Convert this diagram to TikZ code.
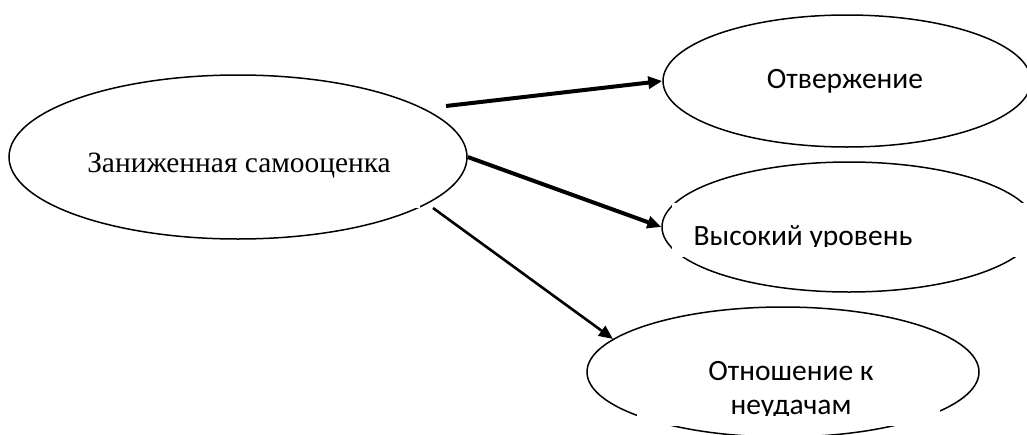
\documentclass[tikz,border=0pt]{standalone}
\usepackage{fontspec}
\setmainfont{Liberation Serif}
\newfontfamily\calibri{Carlito}
\usetikzlibrary{shapes.geometric,arrows.meta,positioning,calc}

\begin{document}
\begin{tikzpicture}[
            x=1pt,y=-1pt,
            >={Triangle[length=14pt,width=12pt]},
            oval/.style={draw,ellipse,line width=1.5pt,inner sep=0pt},
            vector/.style={->,line width=4pt},
            thinvector/.style={->,line width=2.6pt},
            textbox/.style={fill=white,inner sep=0pt},
            boxtext/.style={font=\fontsize{29.5}{34}\selectfont\calibri,inner sep=0pt,anchor=base},
            maintext/.style={font=\fontsize{29.4}{34}\selectfont,inner sep=0pt,anchor=base}
        ]

        % Page size
        \useasboundingbox (0,0) rectangle (1027,434);

        % Draw the four ovals
        \node[oval,minimum width=458pt,minimum height=164pt] (low) at (238,157) {};
        \node[oval,minimum width=368pt,minimum height=132pt] (rej) at (847,81) {};
        \node[oval,minimum width=374pt,minimum height=130pt] (high) at (849,227) {};
        \node[oval,minimum width=392pt,minimum height=130pt] (fail) at (783,372) {};

        % Text boxes over the ovals
        \node[textbox,minimum width=360pt,minimum height=96pt] (lowbox) at (240,160) {};
        \node[textbox,minimum width=356pt,minimum height=54pt] (highbox) at (850,230) {};
        \node[textbox,minimum width=303pt,minimum height=86pt] (failbox) at (788.5,383) {};

        % Texts
        \node[maintext] (lowtext) at (239,172) {Заниженная самооценка};
        \node[boxtext] (rejtext) at (845,88) {Отвержение};
        \begin{scope}
            \clip (672,203) rectangle (1027,246);
            \node[boxtext] (hightext) at (803,245) {Высокий уровень};
        \end{scope}
        \begin{scope}
            \clip (637,340) rectangle (940,415);
            \node[boxtext] (failtext) at (791,380) {Отношение к};
            \node[boxtext] (failtext2) at (791,414) {неудачам};
        \end{scope}

        % Draw the arrows
        \coordinate (start1) at (446,106);
        \coordinate (start3) at (433,208);
        \draw[vector] (start1) -- (rej.west);
        \draw[vector] (low.east) -- (high.west);
        \draw[thinvector] (start3) -- (fail.169);

\end{tikzpicture}
\end{document}
